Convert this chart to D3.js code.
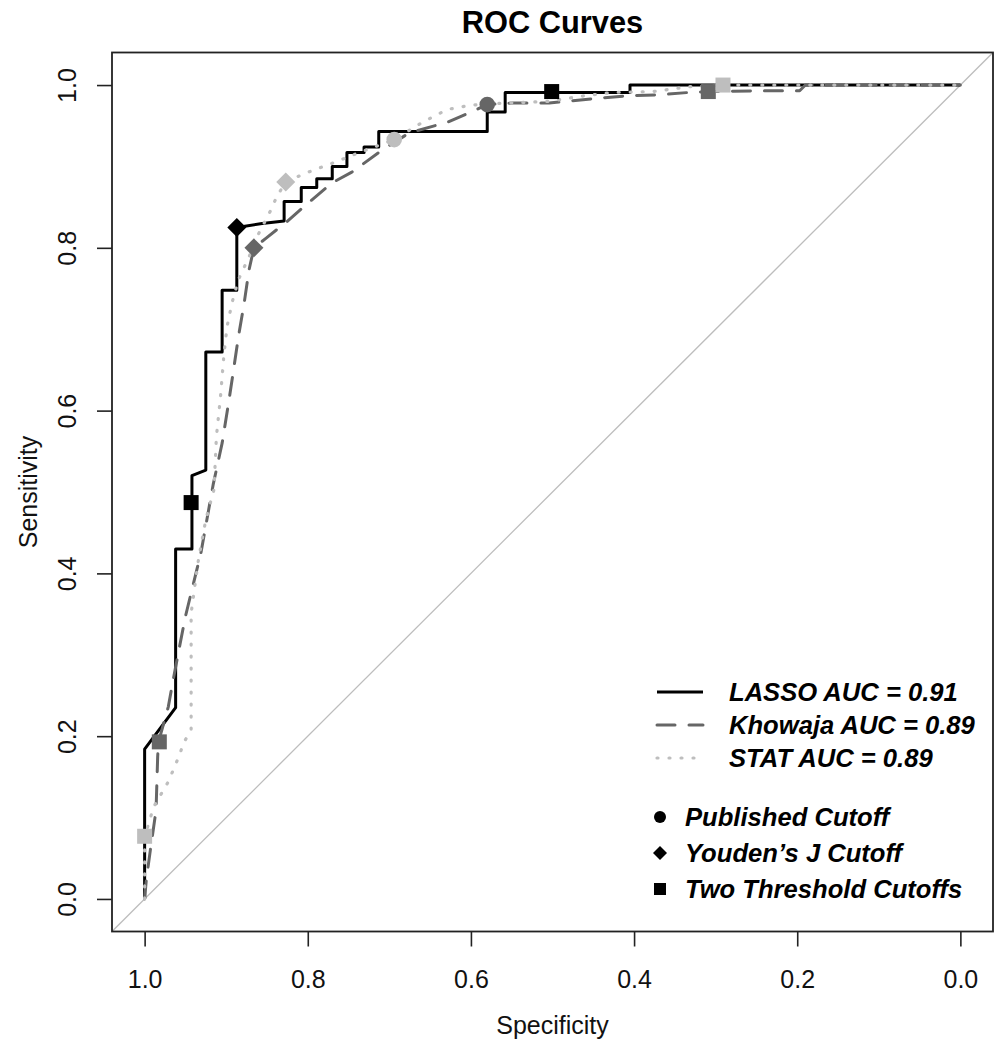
<!DOCTYPE html>
<html>
<head>
<meta charset="utf-8">
<script src="https://cdn.jsdelivr.net/npm/d3@7"></script>
<style>
html,body{margin:0;padding:0;background:#fff;}
svg{display:block;font-family:"Liberation Sans",Arial,Helvetica,sans-serif;}
</style>
</head>
<body>
<svg id="chart" width="1004" height="1050"></svg>
<script>
// ---------- data ----------
const title = "ROC Curves";
const xLabel = "Specificity";
const yLabel = "Sensitivity";
const tickValues = [1.0, 0.8, 0.6, 0.4, 0.2, 0.0];
const tickLabels = ["1.0", "0.8", "0.6", "0.4", "0.2", "0.0"];

const seriesNames = ["LASSO", "Khowaja", "STAT"];
const seriesAUC = ["0.91", "0.89", "0.89"];
const seriesColors = ["#000000", "#666666", "#bebebe"];

const lassoSpec = [1.0, 1.0, 0.962, 0.962, 0.942, 0.942, 0.925, 0.925, 0.905, 0.905, 0.887, 0.887, 0.856, 0.829, 0.829, 0.808, 0.808, 0.789, 0.789, 0.770, 0.770, 0.752, 0.752, 0.731, 0.731, 0.713, 0.713, 0.580, 0.580, 0.558, 0.558, 0.405, 0.405, 0.0];
const lassoSens = [0.0, 0.184, 0.235, 0.430, 0.430, 0.520, 0.527, 0.672, 0.672, 0.748, 0.748, 0.825, 0.830, 0.833, 0.857, 0.857, 0.874, 0.874, 0.885, 0.885, 0.900, 0.900, 0.917, 0.917, 0.924, 0.924, 0.943, 0.943, 0.967, 0.967, 0.991, 0.991, 1.0, 1.0];

const khowajaSpec = [1.0, 0.998, 0.993, 0.986, 0.984, 0.983, 0.971, 0.965, 0.958, 0.950, 0.942, 0.931, 0.916, 0.905, 0.897, 0.891, 0.885, 0.878, 0.872, 0.866, 0.851, 0.827, 0.802, 0.770, 0.746, 0.709, 0.676, 0.627, 0.593, 0.580, 0.549, 0.504, 0.442, 0.405, 0.369, 0.332, 0.310, 0.246, 0.197, 0.190, 0.0];
const khowajaSens = [0.0, 0.023, 0.060, 0.109, 0.175, 0.193, 0.236, 0.269, 0.306, 0.347, 0.380, 0.425, 0.509, 0.560, 0.610, 0.650, 0.691, 0.732, 0.773, 0.800, 0.812, 0.831, 0.853, 0.880, 0.893, 0.920, 0.941, 0.955, 0.970, 0.976, 0.978, 0.978, 0.984, 0.987, 0.988, 0.991, 0.992, 0.993, 0.993, 1.0, 1.0];

const statSpec = [1.0, 1.0, 0.989, 0.971, 0.958, 0.952, 0.943, 0.943, 0.934, 0.925, 0.915, 0.912, 0.907, 0.903, 0.899, 0.893, 0.885, 0.872, 0.862, 0.845, 0.838, 0.827, 0.802, 0.770, 0.737, 0.694, 0.660, 0.629, 0.602, 0.580, 0.504, 0.467, 0.426, 0.377, 0.332, 0.291, 0.0];
const statSens = [0.0, 0.076, 0.113, 0.144, 0.175, 0.192, 0.208, 0.351, 0.417, 0.466, 0.503, 0.568, 0.617, 0.666, 0.703, 0.732, 0.761, 0.789, 0.814, 0.847, 0.863, 0.881, 0.892, 0.904, 0.917, 0.933, 0.954, 0.970, 0.975, 0.977, 0.980, 0.986, 0.991, 0.992, 0.998, 1.0, 1.0];

// cutoff markers: series index, specificity, sensitivity
const publishedSeries = [1, 2];
const publishedSpec = [0.580, 0.694];
const publishedSens = [0.976, 0.933];

const youdenSeries = [0, 1, 2];
const youdenSpec = [0.887, 0.866, 0.827];
const youdenSens = [0.825, 0.800, 0.881];

const twoThreshSeries = [0, 0, 1, 1, 2, 2];
const twoThreshSpec = [0.943, 0.501, 0.982, 0.309, 1.0, 0.291];
const twoThreshSens = [0.487, 0.992, 0.193, 0.992, 0.077, 1.0];

const cutoffLabels = ["Published Cutoff", "Youden\u2019s J Cutoff", "Two Threshold Cutoffs"];

// ---------- layout ----------
const svg = d3.select("#chart");
const L = 112, R = 993, T = 52.5, B = 931.5;
const x = d3.scaleLinear().domain([1.04, -0.04]).range([L, R]);
const y = d3.scaleLinear().domain([-0.04, 1.04]).range([B, T]);
const FS = 25;      // axis text size
const LFS = 25.6;   // legend text size

svg.append("defs").append("clipPath").attr("id", "plotclip")
  .append("rect").attr("x", L).attr("y", T).attr("width", R - L).attr("height", B - T);

// diagonal reference
svg.append("line")
  .attr("clip-path", "url(#plotclip)")
  .attr("x1", x(1.04)).attr("y1", y(-0.04))
  .attr("x2", x(-0.04)).attr("y2", y(1.04))
  .attr("stroke", "#bdbdbd").attr("stroke-width", 1.3);

// curves
const line = d3.line().x(d => x(d[0])).y(d => y(d[1]));
const curveData = [
  d3.zip(lassoSpec, lassoSens),
  d3.zip(khowajaSpec, khowajaSens),
  d3.zip(statSpec, statSens)
];
const dashes = [null, "18,14", "1,11"];
const caps = ["butt", "round", "round"];
const widths = [3, 3, 3.2];

curveData.forEach((pts, i) => {
  svg.append("path")
    .datum(pts)
    .attr("d", line)
    .attr("fill", "none")
    .attr("stroke", seriesColors[i])
    .attr("stroke-width", widths[i])
    .attr("stroke-linejoin", "round")
    .attr("stroke-linecap", caps[i])
    .attr("stroke-dasharray", dashes[i]);
});

// markers
function diamondPath(cx, cy, h) {
  return `M${cx},${cy - h}L${cx + h},${cy}L${cx},${cy + h}L${cx - h},${cy}Z`;
}
publishedSpec.forEach((s, i) => {
  svg.append("circle")
    .attr("cx", x(s)).attr("cy", y(publishedSens[i])).attr("r", 7.8)
    .attr("fill", seriesColors[publishedSeries[i]]);
});
youdenSpec.forEach((s, i) => {
  svg.append("path")
    .attr("d", diamondPath(x(s), y(youdenSens[i]), 9.5))
    .attr("fill", seriesColors[youdenSeries[i]]);
});
twoThreshSpec.forEach((s, i) => {
  svg.append("rect")
    .attr("x", x(s) - 7.5).attr("y", y(twoThreshSens[i]) - 7.5)
    .attr("width", 15).attr("height", 15)
    .attr("fill", seriesColors[twoThreshSeries[i]]);
});

// axes
const xAxis = svg.append("g").attr("transform", `translate(0,${B})`)
  .call(d3.axisBottom(x).tickValues(tickValues).tickSize(15).tickFormat((d, i) => tickLabels[i]));
xAxis.select(".domain").remove();
xAxis.selectAll("line").attr("stroke", "#222").attr("stroke-width", 1.6);
xAxis.selectAll("text")
  .attr("y", 56).attr("dy", 0)
  .attr("font-size", FS).attr("fill", "#111")
  .attr("font-family", "Liberation Sans, Arial, sans-serif");

const yAxis = svg.append("g").attr("transform", `translate(${L},0)`)
  .call(d3.axisLeft(y).tickValues(tickValues).tickSize(15).tickFormat((d, i) => tickLabels[i]));
yAxis.select(".domain").remove();
yAxis.selectAll("line").attr("stroke", "#222").attr("stroke-width", 1.6);
yAxis.selectAll("text")
  .attr("x", 0).attr("dy", 0)
  .attr("text-anchor", "middle")
  .attr("transform", "translate(-36,0) rotate(-90)")
  .attr("font-size", FS).attr("fill", "#111")
  .attr("font-family", "Liberation Sans, Arial, sans-serif");

// box
svg.append("rect")
  .attr("x", L).attr("y", T).attr("width", R - L).attr("height", B - T)
  .attr("fill", "none").attr("stroke", "#222").attr("stroke-width", 1.8);

// titles
svg.append("text")
  .attr("x", (L + R) / 2).attr("y", 33)
  .attr("text-anchor", "middle")
  .attr("font-size", 30.8).attr("font-weight", "bold").attr("fill", "#000")
  .text(title);

svg.append("text")
  .attr("x", (L + R) / 2).attr("y", 1034)
  .attr("text-anchor", "middle")
  .attr("font-size", FS).attr("fill", "#111")
  .text(xLabel);

svg.append("text")
  .attr("transform", `translate(37,${(T + B) / 2}) rotate(-90)`)
  .attr("text-anchor", "middle")
  .attr("font-size", FS).attr("fill", "#111")
  .text(yLabel);

// legend 1: lines
const legRows = [692, 725, 758];
seriesNames.forEach((n, i) => {
  svg.append("line")
    .attr("x1", 657).attr("x2", 703)
    .attr("y1", legRows[i]).attr("y2", legRows[i])
    .attr("stroke", seriesColors[i])
    .attr("stroke-width", widths[i])
    .attr("stroke-linecap", caps[i])
    .attr("stroke-dasharray", dashes[i]);
  svg.append("text")
    .attr("x", 729).attr("y", legRows[i] + 9)
    .attr("font-size", LFS).attr("font-weight", "bold").attr("font-style", "italic")
    .attr("fill", "#000")
    .text(`${n} AUC = ${seriesAUC[i]}`);
});

// legend 2: cutoff symbols
const legRows2 = [817, 853, 889];
svg.append("circle").attr("cx", 660).attr("cy", legRows2[0]).attr("r", 6).attr("fill", "#000");
svg.append("path").attr("d", diamondPath(660, legRows2[1], 7)).attr("fill", "#000");
svg.append("rect").attr("x", 654).attr("y", legRows2[2] - 6).attr("width", 12).attr("height", 12).attr("fill", "#000");
cutoffLabels.forEach((t, i) => {
  svg.append("text")
    .attr("x", 685).attr("y", legRows2[i] + 9)
    .attr("font-size", LFS).attr("font-weight", "bold").attr("font-style", "italic")
    .attr("fill", "#000")
    .text(t);
});
</script>
</body>
</html>
